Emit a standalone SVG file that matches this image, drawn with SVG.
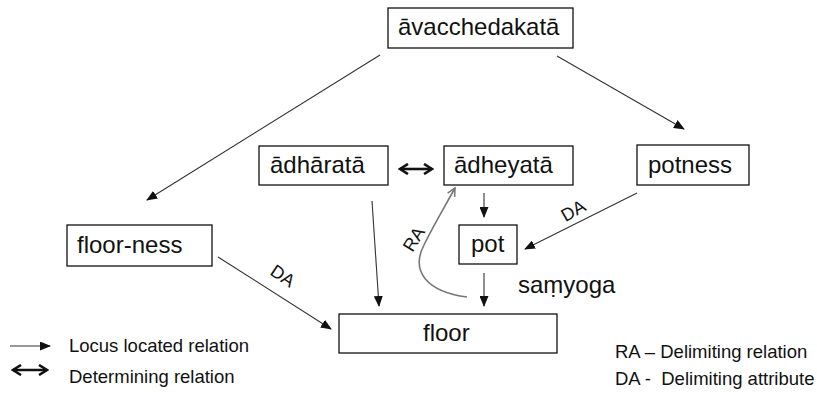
<svg xmlns="http://www.w3.org/2000/svg" width="817" height="403" viewBox="0 0 817 403">
<defs>
<style>
.box{fill:#fff;stroke:#111;stroke-width:1.3}
.nt{font-family:"Liberation Sans",Arial,sans-serif;font-size:24px;fill:#111}
.lt{font-family:"Liberation Sans",Arial,sans-serif;font-size:18.5px;fill:#111}
.el{font-family:"Liberation Sans",Arial,sans-serif;font-size:18px;fill:#111}
.ln{fill:none;stroke:#333;stroke-width:1.1}
.dbl{fill:none;stroke:#111;stroke-width:2.6}
.ra{fill:none;stroke:#777;stroke-width:1.6}
</style>
<marker id="ah" markerWidth="11" markerHeight="9" refX="10" refY="4.5" orient="auto" markerUnits="userSpaceOnUse">
<path d="M0,0 L11,4.5 L0,9 Z" fill="#111"/>
</marker>
<marker id="dh" markerWidth="12" markerHeight="12" refX="10" refY="6" orient="auto-start-reverse" markerUnits="userSpaceOnUse">
<path d="M2,1 L10,6 L2,11" fill="none" stroke="#111" stroke-width="2.6"/>
</marker>
<marker id="rh" markerWidth="10" markerHeight="10" refX="9" refY="5" orient="auto" markerUnits="userSpaceOnUse">
<path d="M1,1 L9,5 L1,9" fill="none" stroke="#777" stroke-width="1.5"/>
</marker>
</defs>
<rect width="817" height="403" fill="#fff"/>
<g id="connectors">
<line class="ln" x1="380" y1="55" x2="147" y2="200" marker-end="url(#ah)"/>
<line class="ln" x1="557" y1="56" x2="684" y2="129" marker-end="url(#ah)"/>
<line class="dbl" x1="400" y1="169" x2="432" y2="169" marker-start="url(#dh)" marker-end="url(#dh)"/>
<line class="ln" x1="372" y1="201" x2="379" y2="306" marker-end="url(#ah)"/>
<line class="ln" x1="484" y1="193" x2="484" y2="217" marker-end="url(#ah)"/>
<line class="ln" x1="484" y1="273" x2="484" y2="306" marker-end="url(#ah)"/>
<line class="ln" x1="637" y1="193" x2="525" y2="249" marker-end="url(#ah)"/>
<line class="ln" x1="218" y1="257" x2="331" y2="329" marker-end="url(#ah)"/>
<path class="ra" d="M467,297 C428,292 410,272 424,245 C432,228 444,208 455,188" marker-end="url(#rh)"/>
<text class="el" transform="translate(282,277) rotate(34)" text-anchor="middle" dominant-baseline="middle">DA</text>
<text class="el" transform="translate(574,212) rotate(-30)" text-anchor="middle" dominant-baseline="middle">DA</text>
<text class="el" transform="translate(415,240) rotate(-58)" text-anchor="middle" dominant-baseline="middle">RA</text>
</g>
<g id="n-avacchedakata"><rect class="box" x="388" y="8" width="185" height="40"/><text class="nt" x="398" y="35">āvacchedakatā</text></g>
<g id="n-adharata"><rect class="box" x="259" y="146" width="129" height="39"/><text class="nt" x="270" y="173">ādhāratā</text></g>
<g id="n-adheyata"><rect class="box" x="444" y="146" width="129" height="39"/><text class="nt" x="454" y="173">ādheyatā</text></g>
<g id="n-potness"><rect class="box" x="637" y="145" width="112" height="40"/><text class="nt" x="648" y="173">potness</text></g>
<g id="n-pot"><rect class="box" x="459" y="225" width="58" height="39"/><text class="nt" x="471" y="252">pot</text></g>
<g id="n-floorness"><rect class="box" x="67" y="225" width="145" height="41"/><text class="nt" x="77" y="253">floor-ness</text></g>
<g id="n-floor"><rect class="box" x="339" y="314" width="218" height="39"/><text class="nt" x="423" y="341">floor</text></g>
<text class="nt" x="518" y="293">saṃyoga</text>
<g id="legend">
<line class="ln" x1="10" y1="346" x2="50" y2="346" marker-end="url(#ah)"/>
<text class="lt" x="69" y="352">Locus located relation</text>
<line class="dbl" x1="13" y1="370" x2="47" y2="370" marker-start="url(#dh)" marker-end="url(#dh)"/>
<text class="lt" x="69" y="383">Determining relation</text>
<text class="lt" x="615" y="358">RA – Delimiting relation</text>
<text class="lt" x="615" y="385" xml:space="preserve">DA -  Delimiting attribute</text>
</g>
</svg>
